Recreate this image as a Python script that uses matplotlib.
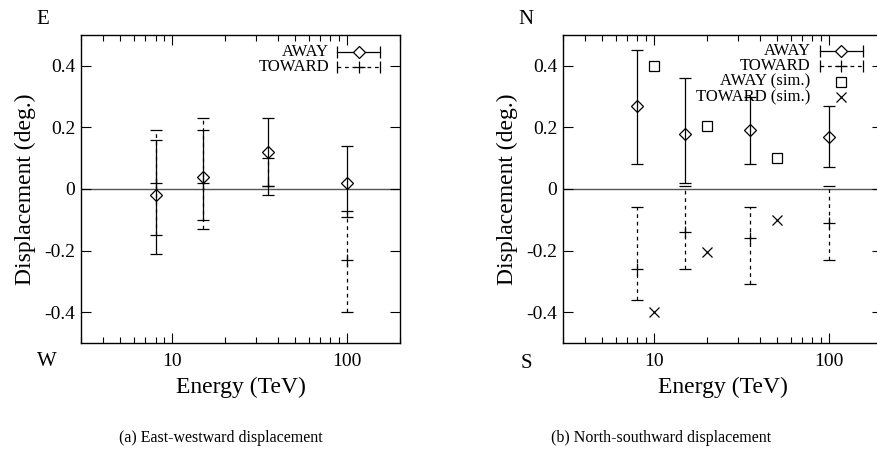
"""
Displacement vs energy, east-west and north-south panels.
"""

import matplotlib
matplotlib.use('Agg')

import matplotlib.pyplot as plt
from matplotlib.ticker import LogLocator, NullFormatter, FixedLocator, FixedFormatter


# East-westward panel
ew_energy = [8, 15, 35, 100]
ew_away = [-0.02, 0.04, 0.12, 0.02]
ew_away_lo = [0.19, 0.14, 0.11, 0.11]
ew_away_hi = [0.18, 0.15, 0.11, 0.12]
ew_toward = [0.02, 0.02, 0.01, -0.23]
ew_toward_lo = [0.17, 0.15, 0.03, 0.17]
ew_toward_hi = [0.17, 0.21, 0.09, 0.16]

# North-southward panel
ns_energy = [8, 15, 35, 100]
ns_away = [0.27, 0.18, 0.19, 0.17]
ns_away_lo = [0.19, 0.16, 0.11, 0.10]
ns_away_hi = [0.18, 0.18, 0.11, 0.10]
ns_toward = [-0.26, -0.14, -0.16, -0.11]
ns_toward_lo = [0.10, 0.12, 0.15, 0.12]
ns_toward_hi = [0.20, 0.15, 0.10, 0.12]

sim_energy = [10, 20, 50]
sim_away = [0.40, 0.205, 0.10]
sim_toward = [-0.40, -0.205, -0.10]

y_ticks = [-0.4, -0.2, 0, 0.2, 0.4]
y_tick_labels = ['-0.4', '-0.2', '0', '0.2', '0.4']

SERIF = ['Liberation Serif', 'DejaVu Serif']
DASH = (0, (3, 3))

plt.rcParams['font.family'] = SERIF


def _setup_axes(ax):
    ax.set_xscale('log')
    ax.set_xlim(3, 200)
    ax.set_ylim(-0.5, 0.5)
    ax.xaxis.set_major_locator(FixedLocator([10, 100]))
    ax.xaxis.set_major_formatter(FixedFormatter(['10', '100']))
    ax.xaxis.set_minor_locator(LogLocator(base=10, subs=range(2, 10)))
    ax.xaxis.set_minor_formatter(NullFormatter())
    ax.yaxis.set_major_locator(FixedLocator(y_ticks))
    ax.yaxis.set_major_formatter(FixedFormatter(y_tick_labels))
    ax.tick_params(which='both', direction='in', top=True, right=True,
                   labelsize=14, width=0.8)
    ax.tick_params(axis='y', pad=4)
    ax.tick_params(axis='x', pad=7)
    ax.tick_params(which='major', length=7)
    ax.tick_params(which='minor', length=4)
    for s in ax.spines.values():
        s.set_linewidth(1.0)
    ax.axhline(0, color='#555555', lw=1.0, zorder=1)
    ax.set_xlabel('Energy (TeV)', fontsize=17, labelpad=5)
    ax.set_ylabel('Displacement (deg.)', fontsize=17, labelpad=6)


def _errbar(ax, x, y, lo, hi, marker, ms, dashed):
    cont = ax.errorbar(x, y, yerr=[lo, hi], fmt=marker, ms=ms, mfc='none',
                       mec='black', mew=0.9, ecolor='black', elinewidth=0.9,
                       capsize=4, capthick=0.9, zorder=3)
    if dashed:
        for lc in cont[2]:
            lc.set_linestyle(DASH)
    return cont


def _key(ax, row_y, label, marker, ms, kind, x_text, x0, x1):
    # gnuplot style key entry: text on the left, sample on the right
    tr = ax.transAxes
    ax.text(x_text, row_y, label, transform=tr, ha='right', va='center',
            fontsize=12)
    xm = 0.5 * (x0 + x1)
    if kind != 'point':
        ls = DASH if kind == 'dashed' else '-'
        ax.plot([x0, x1], [row_y, row_y], transform=tr, color='black',
                lw=0.9, ls=ls, clip_on=False)
        for xc in (x0, x1):
            ax.plot([xc], [row_y], transform=tr, marker='|', ms=8,
                    mew=0.9, color='black', clip_on=False)
    ax.plot([xm], [row_y], transform=tr, marker=marker, ms=ms, mfc='white',
            mec='black', mew=0.9, color='black', clip_on=False)


fig = plt.figure(figsize=(8.78, 4.58), dpi=100)

# (a) east-west
ax1 = fig.add_axes([0.0923, 0.2511, 0.3633, 0.6725])
_setup_axes(ax1)
_errbar(ax1, ew_energy, ew_away, ew_away_lo, ew_away_hi, 'D', 6, False)
_errbar(ax1, ew_energy, ew_toward, ew_toward_lo, ew_toward_hi, '+', 8, True)
_key(ax1, 0.945, 'AWAY', 'D', 6, 'solid', 0.777, 0.803, 0.937)
_key(ax1, 0.896, 'TOWARD', '+', 8, 'dashed', 0.777, 0.803, 0.937)

# (b) north-south
ax2 = fig.add_axes([0.6412, 0.2511, 0.3633, 0.6725])
_setup_axes(ax2)
_errbar(ax2, ns_energy, ns_away, ns_away_lo, ns_away_hi, 'D', 6, False)
_errbar(ax2, ns_energy, ns_toward, ns_toward_lo, ns_toward_hi, '+', 8, True)
ax2.plot(sim_energy, sim_away, ls='none', marker='s', ms=7, mfc='none',
         mec='black', mew=0.9, zorder=3)
ax2.plot(sim_energy, sim_toward, ls='none', marker='x', ms=7,
         color='black', mew=0.9, zorder=3)
_key(ax2, 0.948, 'AWAY', 'D', 6, 'solid', 0.776, 0.806, 0.940)
_key(ax2, 0.899, 'TOWARD', '+', 8, 'dashed', 0.776, 0.806, 0.940)
_key(ax2, 0.848, 'AWAY (sim.)', 's', 7, 'point', 0.776, 0.806, 0.940)
_key(ax2, 0.799, 'TOWARD (sim.)', 'x', 7, 'point', 0.776, 0.806, 0.940)

# compass letters and captions
fig.text(43 / 878, 1 - 19 / 458, 'E', ha='center', va='center', fontsize=15)
fig.text(47 / 878, 1 - 362 / 458, 'W', ha='center', va='center', fontsize=15)
fig.text(526 / 878, 1 - 19 / 458, 'N', ha='center', va='center', fontsize=15)
fig.text(526 / 878, 1 - 364 / 458, 'S', ha='center', va='center', fontsize=15)
fig.text(221 / 878, 1 - 438 / 458, '(a) East-westward displacement',
         ha='center', va='center', fontsize=11.5)
fig.text(661 / 878, 1 - 438 / 458, '(b) North-southward displacement',
         ha='center', va='center', fontsize=11.5)

fig.savefig('out.png', dpi=100)
